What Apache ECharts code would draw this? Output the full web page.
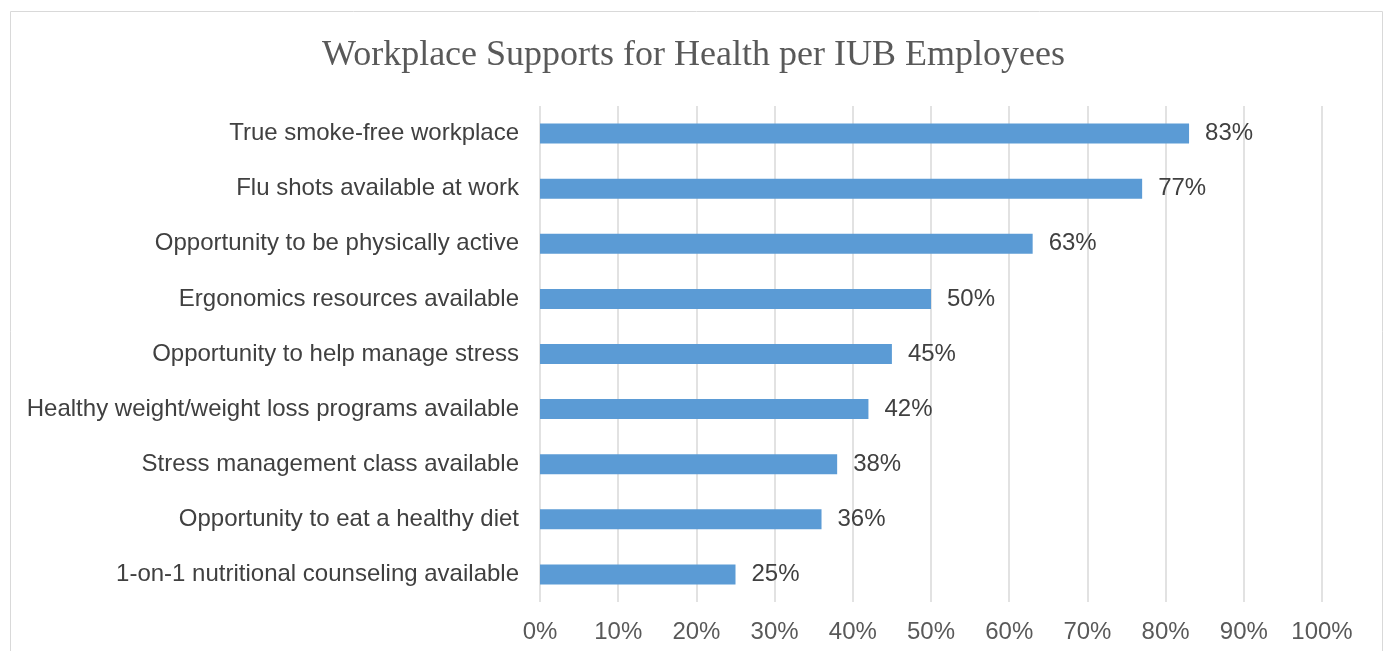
<!DOCTYPE html>
<html>
<head>
<meta charset="utf-8">
<script src="https://cdn.jsdelivr.net/npm/echarts@6/dist/echarts.min.js"></script>
<style>
html,body{margin:0;padding:0;background:#fff;}
#main{width:1387px;height:651px;}
</style>
</head>
<body>
<div id="main"></div>
<script>
const categories = [
  "True smoke-free workplace",
  "Flu shots available at work",
  "Opportunity to be physically active",
  "Ergonomics resources available",
  "Opportunity to help manage stress",
  "Healthy weight/weight loss programs available",
  "Stress management class available",
  "Opportunity to eat a healthy diet",
  "1-on-1 nutritional counseling available"
];
const values = [83, 77, 63, 50, 45, 42, 38, 36, 25];
const xTicks = [0, 10, 20, 30, 40, 50, 60, 70, 80, 90, 100];
const titleText = "Workplace Supports for Health per IUB Employees";

const chart = echarts.init(document.getElementById('main'));
chart.setOption({
  animation: false,
  graphic: [{
    type: 'rect',
    shape: {x: 10.5, y: 11.5, width: 1372, height: 700},
    style: {fill: 'none', stroke: '#d9d9d9', lineWidth: 1},
    silent: true
  }],
  title: {
    text: titleText,
    left: 'center',
    top: 33,
    textStyle: {
      fontFamily: 'Liberation Serif',
      fontWeight: 'normal',
      fontSize: 36,
      color: '#595959'
    }
  },
  grid: {left: 540, right: 65, top: 106, bottom: 49, containLabel: false},
  xAxis: {
    type: 'value',
    min: xTicks[0],
    max: xTicks[xTicks.length - 1],
    interval: 10,
    axisLine: {show: false},
    axisTick: {show: false},
    splitLine: {show: true, lineStyle: {color: '#d9d9d9', width: 1.5}},
    axisLabel: {
      formatter: v => v + '%',
      fontFamily: 'Liberation Sans',
      fontSize: 24,
      color: '#595959',
      margin: 18
    }
  },
  yAxis: {
    type: 'category',
    data: categories,
    inverse: true,
    axisLine: {show: false},
    axisTick: {show: false},
    axisLabel: {
      fontFamily: 'Liberation Sans',
      fontSize: 24,
      color: '#404040',
      margin: 21
    }
  },
  series: [{
    type: 'bar',
    data: values,
    barWidth: 20,
    itemStyle: {color: '#5b9bd5'},
    label: {
      show: true,
      position: 'right',
      distance: 16,
      formatter: p => p.value + '%',
      fontFamily: 'Liberation Sans',
      fontSize: 24,
      color: '#404040'
    }
  }]
});
</script>
</body>
</html>
